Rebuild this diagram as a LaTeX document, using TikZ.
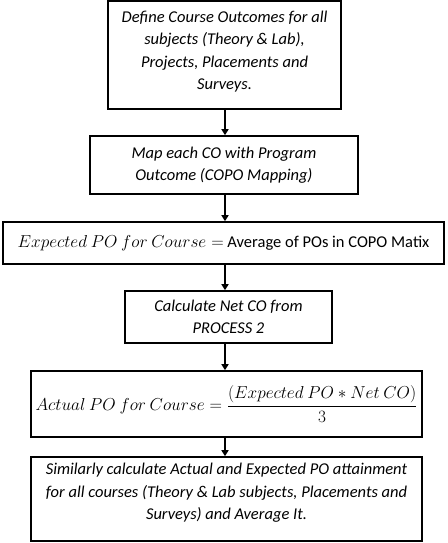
\documentclass[tikz,border=0pt]{standalone}
\usepackage{amsmath}
\usepackage{fontspec}
\setmainfont{Carlito}
\usetikzlibrary{arrows.meta}
\begin{document}
\begin{tikzpicture}[x=1pt,y=-1pt,
  box/.style={draw, line width=1.6pt, align=center, inner sep=0pt,
    font=\fontsize{16.5}{22.5}\selectfont\itshape},
  mbox/.style={box, font=\fontsize{16.5}{22.5}\selectfont},
  arr/.style={line width=1.6pt, -{Triangle[length=6pt,width=7pt]}}]
\useasboundingbox (0,0) rectangle (447,543);
\coordinate (ax) at (225,0);
\node[box, minimum width=233pt, minimum height=108pt] (b1) at (224.5,55)
  {Define Course Outcomes for all\\ subjects (Theory \& Lab),\\ Projects, Placements and\\ Surveys.\\[-13pt]};
\node[box, minimum width=268pt, minimum height=58pt] (b2) at (224,165)
  {Map each CO with Program\\ Outcome (COPO Mapping)};
\node[mbox, minimum width=441pt, minimum height=42pt] (b3) at (223.5,243)
  {$Expected\ PO\ for\ Course = $ Average of POs in COPO Matix};
\node[box, minimum width=207pt, minimum height=52pt] (b4) at (228.5,317)
  {Calculate Net CO from\\ PROCESS 2};
\node[mbox, minimum width=391pt, minimum height=66pt] (b5) at (226.5,404)
  {$Actual\ PO\ for\ Course = \dfrac{(Expected\ PO \ast Net\ CO)}{3}$};
\node[box, minimum width=391pt, minimum height=84pt] (b6) at (226.5,499)
  {Similarly calculate Actual and Expected PO attainment\\ for all courses (Theory \& Lab subjects, Placements and\\ Surveys) and Average It.\\[-8pt]};
\draw[arr] (b1.south -| ax) -- (b2.north -| ax);
\draw[arr] (b2.south -| ax) -- (b3.north -| ax);
\draw[arr] (b3.south -| ax) -- (b4.north -| ax);
\draw[arr] (b4.south -| ax) -- (b5.north -| ax);
\draw[arr] (b5.south -| ax) -- (b6.north -| ax);
\end{tikzpicture}
\end{document}
